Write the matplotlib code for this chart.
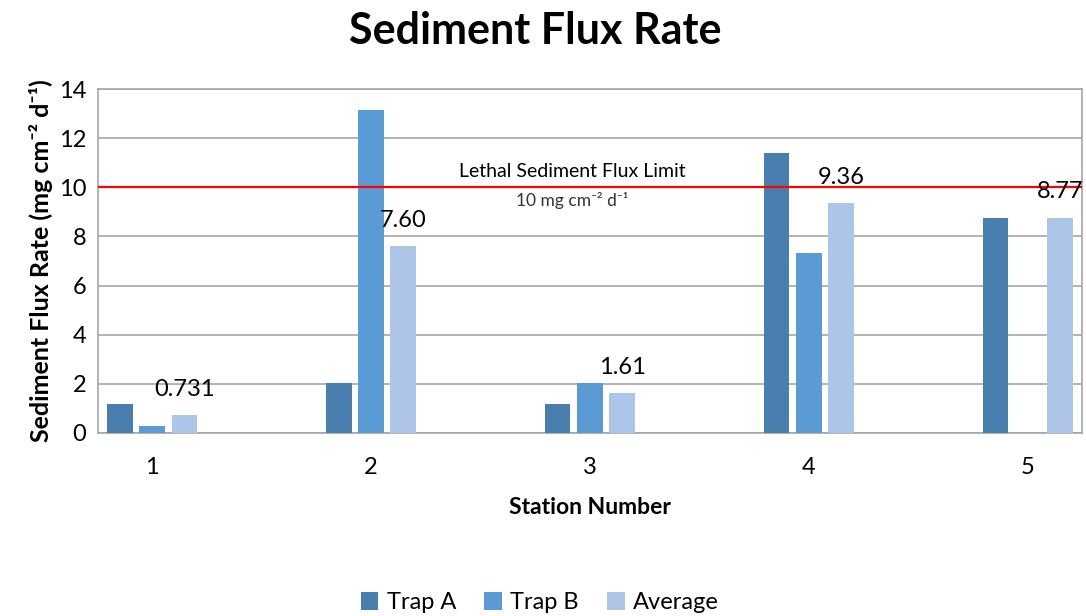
import matplotlib.pyplot as plt
import matplotlib.patches as mpatches
import numpy as np

plt.rcParams['font.family'] = ['Lato', 'DejaVu Sans']

# trap measurements per station (mg cm-2 d-1)
stations = [1, 2, 3, 4, 5]
trap_a = [1.18, 2.03, 1.18, 11.41, 8.77]
trap_b = [0.28, 13.15, 2.05, 7.31, 0.0]
average = [0.731, 7.60, 1.61, 9.36, 8.77]
avg_labels = ['0.731', '7.60', '1.61', '9.36', '8.77']
lethal_limit = 10

colors = ['#4a7eaf', '#5b9bd5', '#adc5e6']
series_names = ['Trap A', 'Trap B', 'Average']

fig = plt.figure(figsize=(10.86, 6.16), dpi=100)
ax = fig.add_axes([0.0898, 0.2971, 0.9065, 0.5584])

x = np.array(stations, dtype=float)
width = 0.118
pitch = 0.148
for k, (vals, c, name) in enumerate(zip([trap_a, trap_b, average], colors, series_names)):
    ax.bar(x + (k - 1) * pitch, vals, width, color=c, label=name, zorder=3)

# value labels above the average bars
for xi, v, lab in zip(x, average, avg_labels):
    ax.annotate(lab, (xi + pitch, v), xytext=(0, 11), textcoords='offset points',
                ha='center', va='bottom', fontsize=17, zorder=6)

ax.set_xlim(0.751, 5.247)
ax.set_ylim(0, 14)
ax.set_yticks(range(0, 15, 2))
ax.set_xticks(stations)
ax.tick_params(axis='both', length=0, labelsize=17, pad=8)
ax.tick_params(axis='x', pad=17)
ax.grid(axis='y', color='#a6a6a6', linewidth=1.2, zorder=0)
for s in ax.spines.values():
    s.set_color('#a6a6a6')
    s.set_linewidth(1.2)

# text box for the lethal limit hides the gridline behind it
ax.add_patch(mpatches.Rectangle((2.125, 9.1), 1.27, 1.6, facecolor='white',
                                edgecolor='none', zorder=1))
ax.axhline(lethal_limit, color='#ff0000', linewidth=1.6, zorder=4)
ax.text(2.92, 10.65, 'Lethal Sediment Flux Limit', ha='center', va='center', fontsize=14, zorder=5)
ax.text(2.92, 9.45, '10 mg cm⁻² d⁻¹', ha='center', va='center', fontsize=12.5,
        color='#333333', zorder=5)

ax.set_xlabel('Station Number', fontsize=16.5, fontweight='bold', labelpad=14)
ax.set_ylabel('Sediment Flux Rate (mg cm⁻² d⁻¹)', fontsize=18,
              fontweight='bold', labelpad=4)
fig.suptitle('Sediment Flux Rate', x=0.493, y=0.982, fontsize=31, fontweight='bold')

fig.legend(loc='lower center', bbox_to_anchor=(0.497, -0.03), ncol=3, frameon=False,
           fontsize=17, handlelength=0.75, handleheight=0.75, handletextpad=0.35,
           columnspacing=1.2)

fig.savefig('out.png', dpi=100)
